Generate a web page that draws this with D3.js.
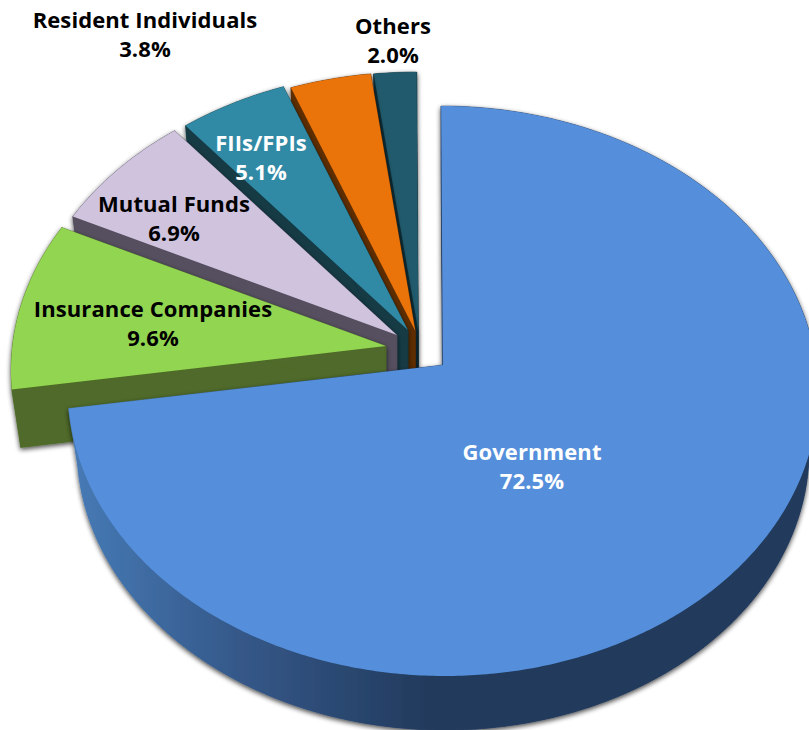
<!DOCTYPE html>
<html>
<head>
<meta charset="utf-8">
<script src="https://cdn.jsdelivr.net/npm/d3@7"></script>
<style>
  html, body { margin: 0; padding: 0; background: #fff; overflow: hidden; }
  text { font-family: "Open Sans", sans-serif; font-weight: 700; font-size: 22px; letter-spacing: 0.1px; }
</style>
</head>
<body>
<svg id="chart" width="809" height="730"></svg>
<script>
// Holder categories and their share of outstanding securities (%)
const categories = ["Government", "Insurance Companies", "Mutual Funds", "FIIs/FPIs", "Resident Individuals", "Others"];
const shares = [72.5, 9.6, 6.9, 5.1, 3.8, 2.0];
const shareLabels = ["72.5%", "9.6%", "6.9%", "5.1%", "3.8%", "2.0%"];

// Presentation of each slice
const topColors = ["#558fdb", "#92d551", "#cfc3de", "#318aa5", "#ea730a", "#215a6c"];
const wallColors = ["#223a5c", "#4f6b29", "#554f5e", "#133a45", "#5e2e04", "#112f39"];
const labelColors = ["#fff", "#000", "#000", "#fff", "#000", "#000"];
const explodeX = [0, -57, -46, -35, -27.5, -24.5];
const explodeY = [0, -19, -30, -35, -34, -34];
const labelX = [532, 153, 174, 261, 145, 393];
const labelY = [460, 317, 212, 151, 28, 34];

// Tilted disc: the upper face and the smaller lower face seen in perspective
const tilt = -0.091;
const lean = 0.005;
const upperFace = {
  x: d3.scaleLinear().domain([-1, 1]).range([68, 818]),
  y: d3.scaleLinear().domain([-1, 1]).range([106, 676])
};
const lowerFace = {
  x: d3.scaleLinear().domain([-1, 1]).range([77, 809]),
  y: d3.scaleLinear().domain([-1, 1]).range([168, 730])
};

// Projective map from the flat disc onto a face, which pushes the apex off the ellipse centre
function project(theta, r, face, i) {
  const x = r * Math.sin(theta), y = -r * Math.cos(theta);
  const d = 1 + tilt * y;
  const fx = x * Math.sqrt(1 - tilt * tilt) / d;
  const fy = (y + tilt) / d;
  return [face.x(fx + lean * fy) + explodeX[i], face.y(fy) + explodeY[i]];
}

const arcPoints = (a, b, face, i) => {
  const n = Math.max(2, Math.ceil(Math.abs(b - a) / 0.01));
  return d3.range(n + 1).map(k => project(a + (b - a) * k / n, 1, face, i));
};

const line = d3.line();
const svg = d3.select("#chart");
const defs = svg.append("defs");

const shadow = defs.append("filter").attr("id", "soft-shadow")
  .attr("filterUnits", "userSpaceOnUse")
  .attr("x", -40).attr("y", -40).attr("width", 900).attr("height", 820);
shadow.append("feGaussianBlur").attr("in", "SourceAlpha").attr("stdDeviation", 2.4).attr("result", "blur");
shadow.append("feOffset").attr("in", "blur").attr("dx", 0).attr("dy", 1.5).attr("result", "moved");
shadow.append("feComponentTransfer").attr("in", "moved").attr("result", "faint")
  .append("feFuncA").attr("type", "linear").attr("slope", 0.72);
const merge = shadow.append("feMerge");
merge.append("feMergeNode").attr("in", "faint");
merge.append("feMergeNode").attr("in", "SourceGraphic");

const wallShade = defs.append("linearGradient").attr("id", "main-wall")
  .attr("gradientUnits", "userSpaceOnUse")
  .attr("x1", 75).attr("x2", 430).attr("y1", 0).attr("y2", 0);
wallShade.append("stop").attr("offset", 0).attr("stop-color", "#467ab5");
wallShade.append("stop").attr("offset", 0.45).attr("stop-color", "#35598a");
wallShade.append("stop").attr("offset", 1).attr("stop-color", "#223a5c");

const slices = d3.pie().sort(null).startAngle(0).endAngle(2 * Math.PI)(shares);

// Painted from the back slice forwards so nearer slices hide the walls behind them
d3.range(slices.length - 1, -1, -1).forEach(i => {
  const { startAngle: a, endAngle: b } = slices[i];
  const g = svg.append("g").attr("class", "slice");
  const walls = g.append("g").attr("filter", "url(#soft-shadow)");
  const wallFill = i === 0 ? "url(#main-wall)" : wallColors[i];

  const apexUp = project(0, 0, upperFace, i);
  const apexLow = project(0, 0, lowerFace, i);
  const arcUp = arcPoints(a, b, upperFace, i);
  const arcLow = arcPoints(a, b, lowerFace, i);

  const panels = [
    [apexLow, ...arcLow],
    [...arcUp, ...arcLow.slice().reverse()],
    [apexUp, arcUp[0], arcLow[0], apexLow],
    [apexUp, arcUp[arcUp.length - 1], arcLow[arcLow.length - 1], apexLow]
  ];
  walls.selectAll("path").data(panels).join("path")
    .attr("d", d => line(d) + "Z")
    .attr("fill", wallFill)
    .attr("stroke", wallFill)
    .attr("stroke-width", 0.5);

  g.append("path")
    .attr("d", line([apexUp, ...arcUp]) + "Z")
    .attr("fill", topColors[i]);
});

// Labels sit above every slice
const labels = svg.append("g").attr("text-anchor", "middle");
categories.forEach((name, i) => {
  const t = labels.append("text").attr("fill", labelColors[i]);
  t.append("tspan").attr("x", labelX[i]).attr("y", labelY[i]).text(name);
  t.append("tspan").attr("x", labelX[i]).attr("y", labelY[i] + 28.5).text(shareLabels[i]);
});
</script>
</body>
</html>
